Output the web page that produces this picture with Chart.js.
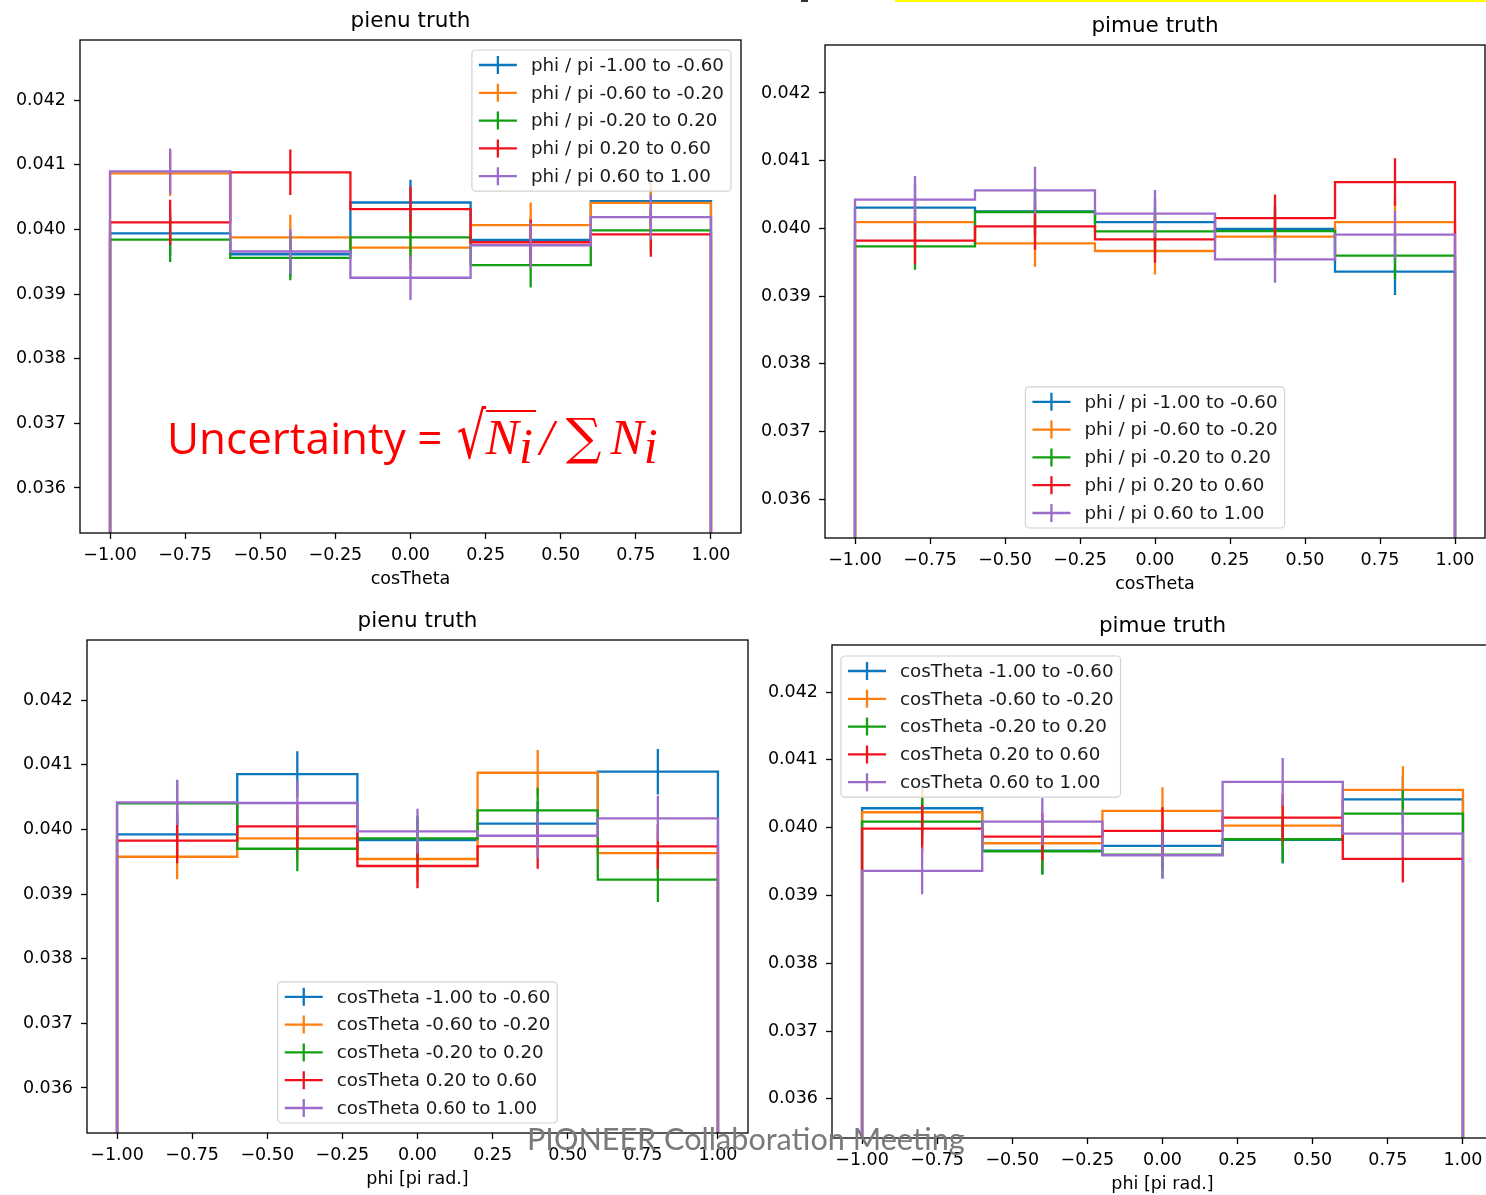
<!DOCTYPE html>
<html>
<head>
<meta charset="utf-8">
<script src="https://cdn.jsdelivr.net/npm/chart.js@4.4.1/dist/chart.umd.min.js"></script>
<style>
  html, body { margin: 0; padding: 0; background: #fff; }
  body { width: 1486px; height: 1195px; overflow: hidden; position: relative; }
  canvas { position: absolute; }
  #formula {
    position: absolute; left: 167px; top: 410px; color: #ff0000;
    font-family: "Open Sans", Lato, sans-serif; font-size: 44px; line-height: 50px;
    white-space: nowrap; z-index: 5;
  }
  #formula .m { font-family: "Liberation Serif", "DejaVu Serif", serif; font-style: italic; font-size: 50px; }
  #formula .rad { font-family: "DejaVu Serif", serif; font-size: 64px; font-style: normal; display: inline-block; transform: scaleX(0.72); margin: 0 -6px 0 -3px; vertical-align: -4px; }
  #formula .over { border-top: 2px solid #ff0000; padding-top: 0px; padding-right: 3px; display: inline-block; line-height: 50px; }
  #formula sub { font-size: 32px; vertical-align: -9px; line-height: 0; }
  #formula .slash { margin-left: 4px; }
  #formula .sum { font-family: "DejaVu Serif", serif; font-size: 50px; margin: 0 9px 0 12px; }
  #footer {
    position: absolute; left: 527px; top: 1121px; color: #7a7a7a;
    font-family: Lato, "Open Sans", sans-serif; font-size: 30.6px; line-height: 36px;
    white-space: nowrap; z-index: 5;
  }
  #topbar { position: absolute; left: 895px; top: 0; width: 591px; height: 2px; background: #ffff00; }
  #topmark { position: absolute; left: 801px; top: 0; width: 7px; height: 2px; background: #333; }
</style>
</head>
<body>
<div id="topbar"></div>
<div id="topmark"></div>
<canvas id="c1"></canvas>
<canvas id="c2"></canvas>
<canvas id="c3"></canvas>
<canvas id="c4"></canvas>
<div id="formula">Uncertainty = <span class="rad">√</span><span class="over"><span class="m">N</span><sub class="m">i</sub></span><span class="m slash">/</span><span class="sum">∑</span><span class="m">N</span><sub class="m">i</sub></div>
<div id="footer">PIONEER Collaboration Meeting</div>
<script>
// Bin edges shared by every histogram (cosTheta or phi/pi)
const BIN_EDGES = [-1.0, -0.6, -0.2, 0.2, 0.6, 1.0];
const X_TICKS = [-1.0, -0.75, -0.5, -0.25, 0.0, 0.25, 0.5, 0.75, 1.0];
const Y_TICKS = [0.036, 0.037, 0.038, 0.039, 0.040, 0.041, 0.042];

const PHI_LABELS = [
  'phi / pi -1.00 to -0.60',
  'phi / pi -0.60 to -0.20',
  'phi / pi -0.20 to 0.20',
  'phi / pi 0.20 to 0.60',
  'phi / pi 0.60 to 1.00'
];
const COS_LABELS = [
  'cosTheta -1.00 to -0.60',
  'cosTheta -0.60 to -0.20',
  'cosTheta -0.20 to 0.20',
  'cosTheta 0.20 to 0.60',
  'cosTheta 0.60 to 1.00'
];

// Total entries per sample; uncertainty = sqrt(N_i) / sum(N_i)
const TOTAL_EVENTS = 330000;

// pienu truth: normalized cosTheta distribution, one series per phi slice
const PIENU_COS_PHI1 = [0.039938, 0.039615, 0.040415, 0.039836, 0.040436];
const PIENU_COS_PHI2 = [0.040866, 0.039877, 0.039718, 0.040066, 0.040410];
const PIENU_COS_PHI3 = [0.039841, 0.039559, 0.039877, 0.039446, 0.039985];
const PIENU_COS_PHI4 = [0.040108, 0.040882, 0.040313, 0.039800, 0.039923];
const PIENU_COS_PHI5 = [0.040897, 0.039657, 0.039251, 0.039754, 0.040190];

// pimue truth: normalized cosTheta distribution, one series per phi slice
const PIMUE_COS_PHI1 = [0.040305, 0.040250, 0.040093, 0.039990, 0.039361];
const PIMUE_COS_PHI2 = [0.040093, 0.039779, 0.039665, 0.039877, 0.040093];
const PIMUE_COS_PHI3 = [0.039734, 0.040241, 0.039956, 0.039960, 0.039597];
const PIMUE_COS_PHI4 = [0.039818, 0.040030, 0.039838, 0.040152, 0.040684];
const PIMUE_COS_PHI5 = [0.040424, 0.040561, 0.040216, 0.039542, 0.039907];

// pienu truth: normalized phi distribution, one series per cosTheta slice
const PIENU_PHI_COS1 = [0.039923, 0.040855, 0.039835, 0.040087, 0.040891];
const PIENU_PHI_COS2 = [0.039576, 0.039861, 0.039541, 0.040875, 0.039633];
const PIENU_PHI_COS3 = [0.040402, 0.039700, 0.039861, 0.040294, 0.039221];
const PIENU_PHI_COS4 = [0.039824, 0.040046, 0.039433, 0.039737, 0.039737];
const PIENU_PHI_COS5 = [0.040418, 0.040407, 0.039969, 0.039901, 0.040170];

// pimue truth: normalized phi distribution, one series per cosTheta slice
const PIMUE_PHI_COS1 = [0.040286, 0.039660, 0.039730, 0.039820, 0.040418];
const PIMUE_PHI_COS2 = [0.040227, 0.039770, 0.040246, 0.040030, 0.040556];
const PIMUE_PHI_COS3 = [0.040088, 0.039652, 0.039600, 0.039829, 0.040206];
const PIMUE_PHI_COS4 = [0.039985, 0.039867, 0.039951, 0.040148, 0.039539];
const PIMUE_PHI_COS5 = [0.039362, 0.040088, 0.039593, 0.040674, 0.039912];

const SERIES_COLORS = ['#0b77bd', '#ff7f0e', '#12a012', '#f2101c', '#9d6bcb'];
const FONT = '"DejaVu Sans", Verdana, sans-serif';
const TICK_SIZE = 17.5;
const LEGEND_SIZE = 18.3;
const LINE_W = 2.3;

// Step outline of a histogram: rises from the baseline at the first edge,
// follows each bin top, drops back to the baseline at the last edge.
function stepPoints(vals) {
  const pts = [{ x: BIN_EDGES[0], y: 0 }];
  vals.forEach((v, i) => {
    pts.push({ x: BIN_EDGES[i], y: v });
    pts.push({ x: BIN_EDGES[i + 1], y: v });
  });
  pts.push({ x: BIN_EDGES[BIN_EDGES.length - 1], y: 0 });
  return pts;
}

// Vertical error bars at the bin centres, separated by gaps
function errorPoints(vals) {
  const pts = [];
  vals.forEach((v, i) => {
    const c = (BIN_EDGES[i] + BIN_EDGES[i + 1]) / 2;
    const e = Math.sqrt(v / TOTAL_EVENTS);
    pts.push({ x: c, y: v - e }, { x: c, y: v + e }, { x: c, y: null });
  });
  return pts;
}

function fmtX(v) {
  const s = Math.abs(v).toFixed(2);
  return v < 0 ? '\u2212' + s : s;
}

// Axes frame (all four spines)
const framePlugin = {
  id: 'frame',
  afterDatasetsDraw(chart) {
    const { ctx, chartArea: a } = chart;
    ctx.save();
    ctx.strokeStyle = '#000';
    ctx.lineWidth = 1.3;
    ctx.strokeRect(a.left, a.top, a.right - a.left, a.bottom - a.top);
    ctx.restore();
  }
};

// Centered title above the axes
const axesTitlePlugin = {
  id: 'axesTitle',
  afterDraw(chart, args, opts) {
    const { ctx, chartArea: a } = chart;
    ctx.save();
    ctx.font = '21.5px ' + FONT;
    ctx.fillStyle = '#000';
    ctx.textAlign = 'center';
    ctx.textBaseline = 'middle';
    ctx.fillText(opts.text, (a.left + a.right) / 2, a.top - 19);
    ctx.restore();
  }
};

// Legend drawn inside the axes with errorbar-style handles
const inAxesLegendPlugin = {
  id: 'inAxesLegend',
  afterDraw(chart, args, opts) {
    const { ctx, chartArea: a } = chart;
    const items = chart.data.datasets.filter(d => d.inLegend);
    ctx.save();
    ctx.font = LEGEND_SIZE + 'px ' + FONT;
    const textW = Math.max(...items.map(d => ctx.measureText(d.label).width));
    const rowH = 27.8;
    const w = 7 + 38 + 14 + textW + 7;
    const h = 15 * 2 + rowH * (items.length - 1);
    let x, y;
    if (opts.loc === 'upper right') { x = a.right - 10 - w; y = a.top + 10; }
    else if (opts.loc === 'upper left') { x = a.left + 9; y = a.top + 11; }
    else { x = (a.left + a.right) / 2 - w / 2; y = a.bottom - 10 - h; }
    ctx.beginPath();
    ctx.roundRect(x, y, w, h, 4);
    ctx.fillStyle = 'rgba(255,255,255,0.8)';
    ctx.fill();
    ctx.strokeStyle = '#d2d2d2';
    ctx.lineWidth = 1.2;
    ctx.stroke();
    items.forEach((d, i) => {
      const cy = y + 15 + i * rowH;
      ctx.strokeStyle = d.borderColor;
      ctx.lineWidth = LINE_W;
      ctx.beginPath();
      ctx.moveTo(x + 7, cy); ctx.lineTo(x + 45, cy);
      ctx.moveTo(x + 26, cy - 9); ctx.lineTo(x + 26, cy + 9);
      ctx.stroke();
      ctx.fillStyle = '#1a1a1a';
      ctx.textAlign = 'left';
      ctx.textBaseline = 'middle';
      ctx.fillText(d.label, x + 59, cy + 1);
    });
    ctx.restore();
  }
};

const PANELS = [
  { id: 'c1', title: 'pienu truth', xTitle: 'cosTheta', labels: PHI_LABELS,
    series: [PIENU_COS_PHI1, PIENU_COS_PHI2, PIENU_COS_PHI3, PIENU_COS_PHI4, PIENU_COS_PHI5],
    box: { l: 80, t: 40, r: 741, b: 533 }, yMin: 0.035304, yMax: 0.042928, legend: 'upper right' },
  { id: 'c2', title: 'pimue truth', xTitle: 'cosTheta', labels: PHI_LABELS,
    series: [PIMUE_COS_PHI1, PIMUE_COS_PHI2, PIMUE_COS_PHI3, PIMUE_COS_PHI4, PIMUE_COS_PHI5],
    box: { l: 825, t: 45, r: 1485, b: 538 }, yMin: 0.035424, yMax: 0.042709, legend: 'lower center' },
  { id: 'c3', title: 'pienu truth', xTitle: 'phi [pi rad.]', labels: COS_LABELS,
    series: [PIENU_PHI_COS1, PIENU_PHI_COS2, PIENU_PHI_COS3, PIENU_PHI_COS4, PIENU_PHI_COS5],
    box: { l: 87, t: 640, r: 748, b: 1133 }, yMin: 0.035304, yMax: 0.042928, legend: 'lower center' },
  { id: 'c4', title: 'pimue truth', xTitle: 'phi [pi rad.]', labels: COS_LABELS,
    series: [PIMUE_PHI_COS1, PIMUE_PHI_COS2, PIMUE_PHI_COS3, PIMUE_PHI_COS4, PIMUE_PHI_COS5],
    box: { l: 832, t: 645, r: 1493, b: 1138 }, yMin: 0.035424, yMax: 0.042693, legend: 'upper left' }
];

const PAD_L = 80, PAD_T = 40, PAD_R = 10, PAD_B = 65;

PANELS.forEach(p => {
  const cv = document.getElementById(p.id);
  const W = p.box.r - p.box.l + PAD_L + PAD_R;
  const H = p.box.b - p.box.t + PAD_T + PAD_B;
  cv.width = W; cv.height = H;
  cv.style.left = (p.box.l - PAD_L) + 'px';
  cv.style.top = (p.box.t - PAD_T) + 'px';
  cv.style.width = W + 'px'; cv.style.height = H + 'px';

  const datasets = [];
  p.series.forEach((vals, k) => {
    datasets.push({
      label: p.labels[k], inLegend: true, data: stepPoints(vals),
      borderColor: SERIES_COLORS[k], borderWidth: LINE_W, pointRadius: 0,
      fill: false, tension: 0, order: 100 - 2 * k
    });
    datasets.push({
      label: p.labels[k] + ' err', inLegend: false, data: errorPoints(vals),
      borderColor: SERIES_COLORS[k], borderWidth: LINE_W, pointRadius: 0,
      fill: false, tension: 0, spanGaps: false, order: 99 - 2 * k
    });
  });

  const tickFont = { family: FONT, size: TICK_SIZE };
  new Chart(cv, {
    type: 'line',
    data: { datasets },
    plugins: [framePlugin, axesTitlePlugin, inAxesLegendPlugin],
    options: {
      responsive: false, animation: false, devicePixelRatio: 1,
      layout: { padding: { left: 0, top: PAD_T, right: PAD_R, bottom: 0 } },
      plugins: {
        legend: { display: false }, tooltip: { enabled: false },
        axesTitle: { text: p.title },
        inAxesLegend: { loc: p.legend }
      },
      scales: {
        x: {
          type: 'linear', min: -1.1, max: 1.1,
          afterBuildTicks: s => { s.ticks = X_TICKS.map(v => ({ value: v })); },
          afterFit: s => { s.height = PAD_B; },
          ticks: { callback: v => fmtX(v), font: tickFont, color: '#000', padding: 5.5, maxRotation: 0, autoSkip: false },
          grid: { display: true, drawOnChartArea: false, drawTicks: true, tickLength: 6, tickWidth: 1.3, tickColor: '#000' },
          border: { display: false },
          title: { display: true, text: p.xTitle, font: tickFont, color: '#000', padding: { top: 0, bottom: 8 } }
        },
        y: {
          type: 'linear', min: p.yMin, max: p.yMax,
          afterBuildTicks: s => { s.ticks = Y_TICKS.map(v => ({ value: v })); },
          afterFit: s => { s.width = PAD_L; },
          ticks: { callback: v => v.toFixed(3), font: tickFont, color: '#000', padding: 8, autoSkip: false },
          grid: { display: true, drawOnChartArea: false, drawTicks: true, tickLength: 6, tickWidth: 1.3, tickColor: '#000' },
          border: { display: false }
        }
      }
    }
  });
});
</script>
</body>
</html>
